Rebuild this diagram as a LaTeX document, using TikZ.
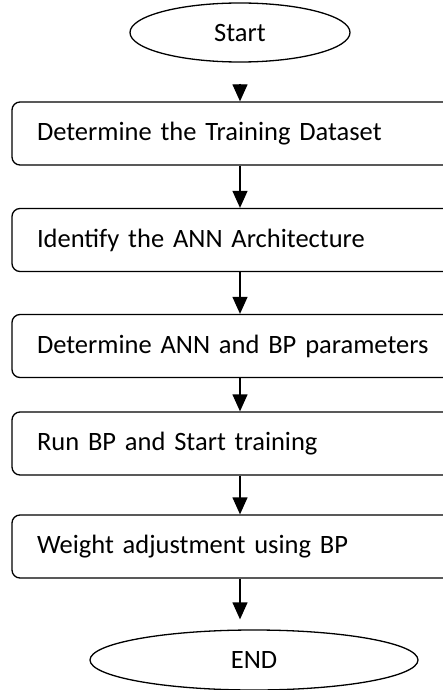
\documentclass[tikz,border=0pt]{standalone}
\usepackage{fontspec}
\setmainfont{Carlito}
\usetikzlibrary{shapes.geometric,arrows.meta}

\begin{document}
\begin{tikzpicture}[x=1pt,y=-1pt,
  line width=1.3pt,
  font=\fontsize{26.5}{30}\selectfont,
  terminal/.style={draw, ellipse, inner sep=0pt},
  stepbox/.style={draw, rounded corners=8pt, minimum height=63pt,
    text width=408pt, inner xsep=25pt, inner ysep=0pt, align=left},
  arr/.style={-{Triangle[width=15pt,length=17pt]}}]
\useasboundingbox (0,0) rectangle (443,690);
\clip (0,0) rectangle (443,690);
%
\node[terminal, minimum width=220pt, minimum height=59pt] (start) at (240,32.5) {Start};
\node[stepbox] (b1) at (241,133.5) {Determine the Training Dataset};
\node[stepbox] (b2) at (241,240) {Identify the ANN Architecture};
\node[stepbox] (b3) at (241,346) {Determine ANN and BP parameters};
\node[stepbox] (b4) at (241,443.5) {Run BP and Start training};
\node[stepbox] (b5) at (241,546.5) {Weight adjustment using BP};
\node[terminal, minimum width=328pt, minimum height=60pt] (end) at (254,660) {END};
%
\draw[arr, shorten <=21pt] (start.south) -- (b1.north -| start);
\draw[arr] (b1.south -| start) -- (b2.north -| start);
\draw[arr] (b2.south -| start) -- (b3.north -| start);
\draw[arr] (b3.south -| start) -- (b4.north -| start);
\draw[arr] (b4.south -| start) -- (b5.north -| start);
\draw[arr, shorten >=10pt] (b5.south -| start) -- (end.north -| start);
\end{tikzpicture}
\end{document}
